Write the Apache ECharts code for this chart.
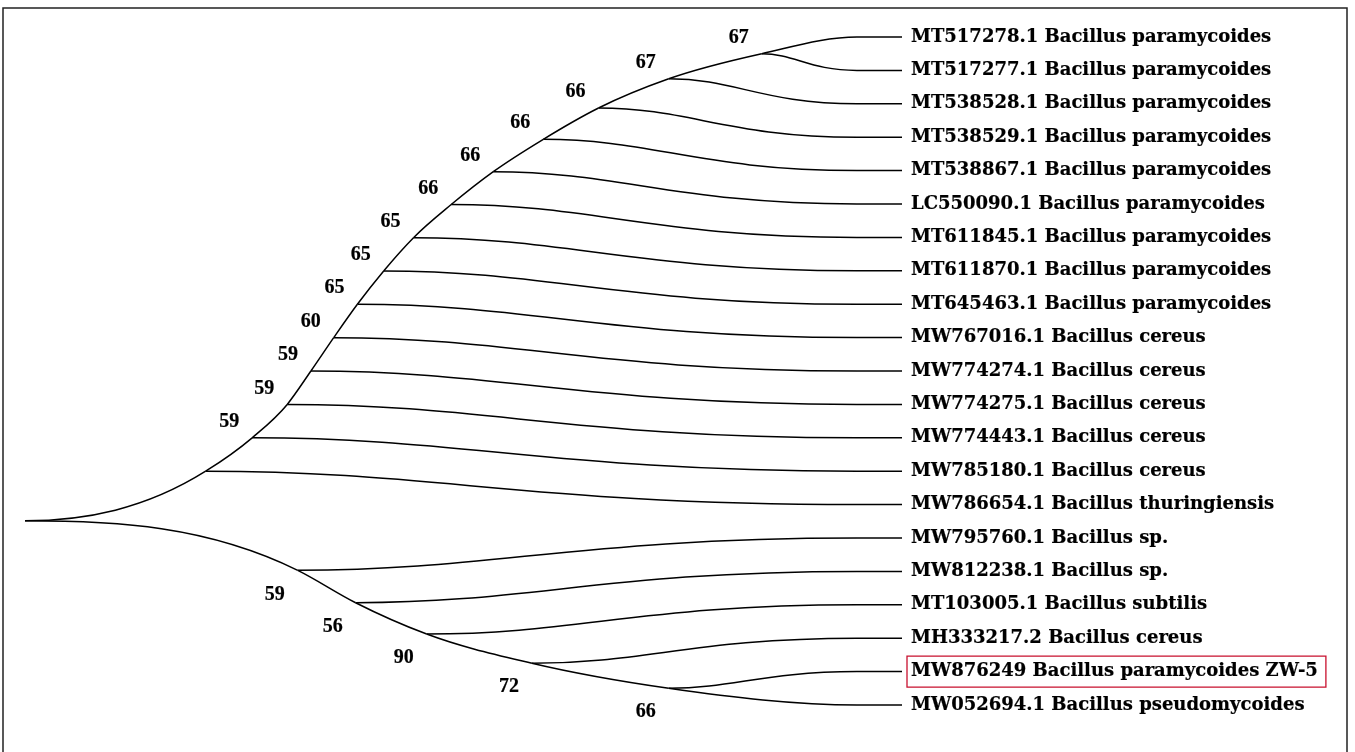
<!DOCTYPE html>
<html><head><meta charset="utf-8">
<script src="https://cdn.jsdelivr.net/npm/echarts@6/dist/echarts.min.js"></script>
<style>html,body{margin:0;padding:0;background:#fff}#c{width:1355px;height:752px}</style>
</head><body><div id="c"></div>
<script>
// ---- data ----
const leafNames = [
  'MT517278.1 Bacillus paramycoides',
  'MT517277.1 Bacillus paramycoides',
  'MT538528.1 Bacillus paramycoides',
  'MT538529.1 Bacillus paramycoides',
  'MT538867.1 Bacillus paramycoides',
  'LC550090.1 Bacillus paramycoides',
  'MT611845.1 Bacillus paramycoides',
  'MT611870.1 Bacillus paramycoides',
  'MT645463.1 Bacillus paramycoides',
  'MW767016.1 Bacillus cereus',
  'MW774274.1 Bacillus cereus',
  'MW774275.1 Bacillus cereus',
  'MW774443.1 Bacillus cereus',
  'MW785180.1 Bacillus cereus',
  'MW786654.1 Bacillus thuringiensis',
  'MW795760.1 Bacillus sp.',
  'MW812238.1 Bacillus sp.',
  'MT103005.1 Bacillus subtilis',
  'MH333217.2 Bacillus cereus',
  'MW876249 Bacillus paramycoides ZW-5',
  'MW052694.1 Bacillus pseudomycoides'
];
const highlightedLeaf = 19;
const leafDepth = 100;
// upper clade: internal nodes from the root outward (depth from root, bootstrap, side leaf)
const upperNodeDepth   = [20.6, 25.9, 29.9, 32.6, 35.2, 37.9, 40.9, 44.3, 48.6, 53.4, 59.1, 65.4, 73.4, 84.0];
const upperNodeSupport = ['', '59', '59', '59', '60', '65', '65', '65', '66', '66', '66', '66', '67', '67'];
const upperSideLeaf    = [14, 13, 12, 11, 10, 9, 8, 7, 6, 5, 4, 3, 2, 1];
const upperTerminalLeaf = 0;
// lower clade
const lowerNodeDepth   = [31.1, 37.7, 45.8, 57.8, 73.4];
const lowerNodeSupport = ['59', '56', '90', '72', '66'];
const lowerSideLeaf    = [15, 16, 17, 18, 19];
const lowerTerminalLeaf = 20;

// ---- tree layout (node y = mean of its two children) ----
function cladeY(sideLeaf, terminal) {
  const ys = new Array(sideLeaf.length);
  let y = terminal;
  for (let i = sideLeaf.length - 1; i >= 0; i--) { y = (y + sideLeaf[i]) / 2; ys[i] = y; }
  return ys;
}
const upperNodeY = cladeY(upperSideLeaf, upperTerminalLeaf);
const lowerNodeY = cladeY(lowerSideLeaf, lowerTerminalLeaf);
const root = { x: 0, y: (upperNodeY[0] + lowerNodeY[0]) / 2, leaf: 0 };

const edges = [];
function addSpine(depths, ys, sideLeaf, terminal) {
  const pts = [root].concat(depths.map((d, i) => ({ x: d, y: ys[i], leaf: 0 })),
    [{ x: leafDepth, y: terminal, leaf: 1 }]);
  for (let j = 0; j < pts.length - 1; j++) {
    const a = pts[j], b = pts[j + 1], p = j > 0 ? pts[j - 1] : a, n = j + 2 < pts.length ? pts[j + 2] : b;
    edges.push([p.x, p.y, a.x, a.y, b.x, b.y, n.x, n.y, 1, j > 0 ? 1 : 0, j + 2 < pts.length ? 1 : 0, b.leaf, n.leaf]);
  }
  depths.forEach((d, i) => {
    edges.push([d, ys[i], d, ys[i], leafDepth, sideLeaf[i], leafDepth, sideLeaf[i], 0, 0, 0, 1, 0]);
  });
}
addSpine(upperNodeDepth, upperNodeY, upperSideLeaf, upperTerminalLeaf);
addSpine(lowerNodeDepth, lowerNodeY, lowerSideLeaf, lowerTerminalLeaf);

const FLAT = 45;
const lineStyle = { stroke: '#000', lineWidth: 1.5, fill: null };
function slope(a, b, c) {
  const h0 = b[0] - a[0], h1 = c[0] - b[0];
  const s0 = (b[1] - a[1]) / h0, s1 = (c[1] - b[1]) / h1;
  return (s0 * h1 + s1 * h0) / (h0 + h1);
}
function renderEdge(params, api) {
  const v = i => api.value(i);
  const P = api.coord([v(2), v(3)]);
  const C = api.coord([v(4), v(5)]);
  const toLeaf = v(11) === 1;
  const E = toLeaf ? [C[0] - FLAT, C[1]] : C;
  const children = [];
  if (toLeaf) children.push({ type: 'line', shape: { x1: E[0], y1: E[1], x2: C[0], y2: C[1] }, style: lineStyle });
  const dx = E[0] - P[0];
  let cp1, cp2;
  if (v(8) === 0) {
    cp1 = [P[0] + 0.35 * dx, P[1]];
    cp2 = [E[0] - 0.5 * dx, E[1]];
  } else {
    const prev = v(9) ? api.coord([v(0), v(1)]) : null;
    let next = v(10) ? api.coord([v(6), v(7)]) : null;
    if (next && v(12) === 1) next = [next[0] - FLAT, next[1]];
    const mP = prev ? slope(prev, P, E) : 0;
    const mE = next ? slope(P, E, next) : 0;
    cp1 = [P[0] + dx / 3, P[1] + mP * dx / 3];
    cp2 = [E[0] - dx / 3, E[1] - mE * dx / 3];
  }
  children.push({ type: 'bezierCurve', shape: { x1: P[0], y1: P[1], x2: E[0], y2: E[1],
    cpx1: cp1[0], cpy1: cp1[1], cpx2: cp2[0], cpy2: cp2[1] }, style: lineStyle });
  return { type: 'group', children };
}

const leafData = leafNames.map((n, i) => {
  const item = { name: n, value: [leafDepth, i] };
  if (i === highlightedLeaf) {
    item.label = { borderColor: '#c8102e', borderWidth: 1.3, padding: [6, 8, 5, 4], distance: 5 };
  }
  return item;
});
const supportLabel = { show: true, position: 'inside', formatter: '{b}', fontFamily: 'Liberation Serif',
  fontWeight: 'bold', fontSize: 20, color: '#000', opacity: 1, textBorderColor: '#000', textBorderWidth: 0.2,
  align: 'center', verticalAlign: 'middle' };
const nodeData = [];
upperNodeDepth.forEach((d, i) => { if (upperNodeSupport[i]) nodeData.push({ name: upperNodeSupport[i], value: [d, upperNodeY[i]], label: { offset: [-23, -16] } }); });
lowerNodeDepth.forEach((d, i) => { nodeData.push({ name: lowerNodeSupport[i], value: [d, lowerNodeY[i]], label: { offset: [-23, 24] } }); });

const chart = echarts.init(document.getElementById('c'), null, { renderer: 'canvas' });
chart.setOption({
  animation: false,
  backgroundColor: '#fff',
  grid: { left: 25, right: 453, top: 37, bottom: 47 },
  xAxis: { type: 'value', min: 0, max: 100, show: false },
  yAxis: { type: 'value', min: 0, max: 20, inverse: true, show: false },
  graphic: [{ type: 'rect', silent: true, shape: { x: 3, y: 8, width: 1344, height: 770 },
    style: { fill: null, stroke: '#222', lineWidth: 1.5 } }],
  series: [
    { type: 'custom', coordinateSystem: 'cartesian2d', renderItem: renderEdge, data: edges,
      encode: { x: [2, 4], y: [3, 5] }, clip: false, silent: true },
    { type: 'scatter', symbolSize: 0, data: leafData, silent: true, itemStyle: { opacity: 1 },
      label: { show: true, position: 'right', distance: 9, formatter: '{b}', fontFamily: 'DejaVu Serif',
        fontWeight: 'bold', fontSize: 18, lineHeight: 20, color: '#000', opacity: 1,
        textBorderColor: '#000', textBorderWidth: 0.2 } },
    { type: 'scatter', symbolSize: 0, data: nodeData, silent: true, itemStyle: { opacity: 1 }, label: supportLabel }
  ]
});
</script></body></html>
